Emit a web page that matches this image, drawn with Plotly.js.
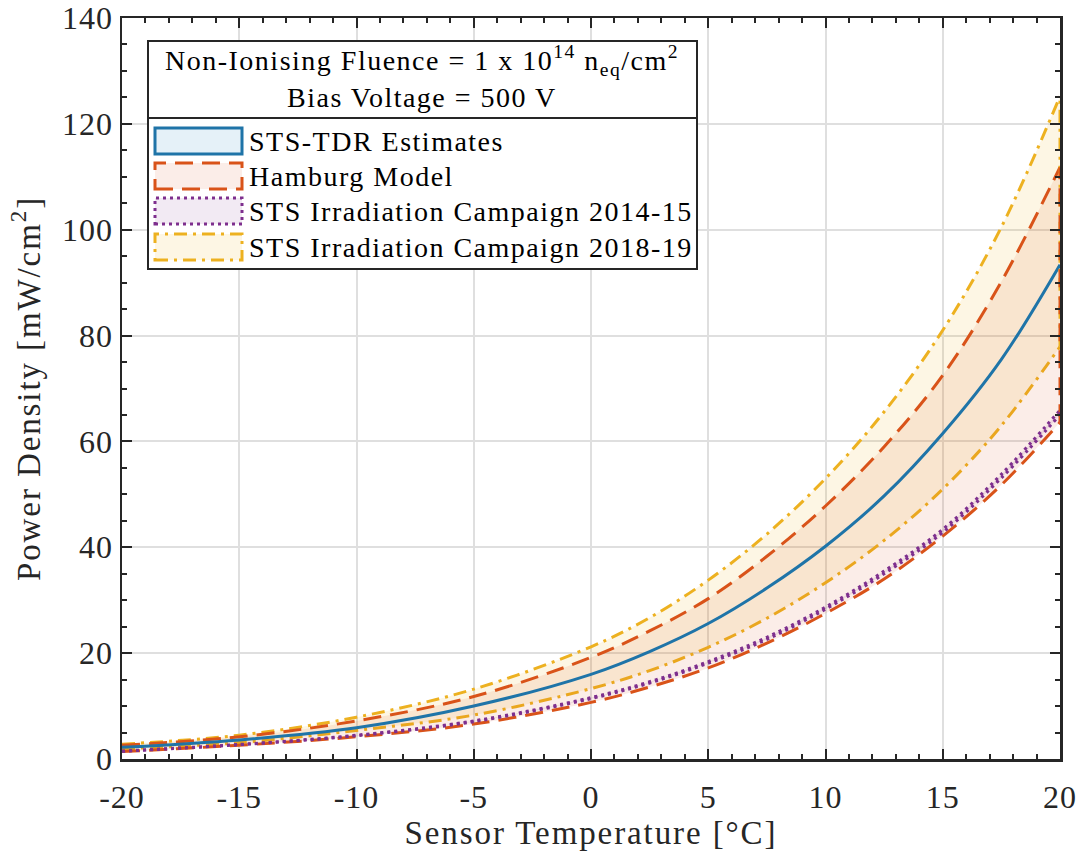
<!DOCTYPE html>
<html>
<head>
<meta charset="utf-8">
<script src="https://cdn.plot.ly/plotly-3.0.1.min.js"></script>
<style>
html,body{margin:0;padding:0;background:#fff}
#chart{width:1083px;height:857px}
.annotation-text{letter-spacing:1.5px}
.xtick text,.ytick text{letter-spacing:1px}
text.xtitle,text.ytitle{letter-spacing:1.9px}
</style>
</head>
<body>
<div id="chart"></div>
<script>
// ---- data ----
const temperature = [-20, -15, -10, -5, 0, 2.5, 5, 7.5, 10, 12.5, 15, 17.5, 20];
const tdrEstimate = [2.2, 3.6, 5.9, 10.0, 16.0, 20.3, 25.6, 32.3, 40.2, 49.7, 61.5, 75.5, 93.4];
const hamburgUpper = [2.6, 4.2, 7.2, 11.8, 19.2, 24.2, 30.3, 38.3, 47.8, 59.0, 72.5, 90.2, 111.8];
const hamburgLower = [1.4, 2.6, 4.2, 6.6, 10.7, 13.6, 17.2, 21.9, 27.5, 34.0, 42.1, 51.8, 63.6];
const campaign1415Upper = [1.5, 2.75, 4.5, 7.2, 11.6, 14.6, 18.4, 23.0, 28.7, 35.5, 43.4, 53.8, 65.9];
const campaign1415Lower = [1.45, 2.7, 4.4, 7.05, 11.4, 14.35, 18.1, 22.6, 28.3, 35.0, 42.8, 53.1, 65.0];
const campaign1819Upper = [2.8, 4.5, 7.9, 13.2, 21.2, 26.7, 33.8, 42.5, 53.0, 65.6, 81.0, 100.5, 125.2];
const campaign1819Lower = [1.9, 3.1, 5.4, 8.3, 13.3, 16.7, 21.1, 26.6, 33.3, 41.3, 51.0, 63.0, 77.9];
const seriesNames = ["STS-TDR Estimates", "Hamburg Model", "STS Irradiation Campaign 2014-15", "STS Irradiation Campaign 2018-19"];
const legendTitle = ["Non-Ionising Fluence = 1 x 10<sup>14</sup> n<sub>eq</sub>/cm<sup>2</sup>", "Bias Voltage = 500 V"];
const xTickValues = [-20, -15, -10, -5, 0, 5, 10, 15, 20];
const xTickLabels = ["-20", "-15", "-10", "-5", "0", "5", "10", "15", "20"];
const yTickValues = [0, 20, 40, 60, 80, 100, 120, 140];
const yTickLabels = ["0", "20", "40", "60", "80", "100", "120", "140"];
const xTitle = "Sensor Temperature [°C]";
const yTitle = "Power Density [mW/cm<sup>2</sup>]";

// ---- styling ----
const FONT = "Liberation Serif, Times New Roman, serif";
const INK = "#262626";
const styles = [
  {line: "#1f74a8", fill: "rgba(0,114,189,0.1)", dash: "solid"},
  {line: "#D95319", fill: "rgba(217,83,25,0.1)", dash: "18px,9px"},
  {line: "#7E2F8E", fill: "rgba(126,47,142,0.1)", dash: "3px,4px"},
  {line: "#EDB120", fill: "rgba(237,177,32,0.12)", dash: "13px,6px,3px,6px"}
];

const traces = [];
function band(upper, lower, st, name) {
  const ln = {color: st.line, width: 3, dash: st.dash, shape: "spline", smoothing: 1};
  traces.push({x: temperature, y: lower, type: "scatter", mode: "lines", line: ln,
    name: name, showlegend: false, hoverinfo: "skip"});
  traces.push({x: temperature, y: upper, type: "scatter", mode: "lines", line: ln,
    fill: "tonexty", fillcolor: st.fill, name: name, showlegend: false, hoverinfo: "skip"});
}
function edge(upper, lower, st, name) {
  const n = temperature.length - 1;
  traces.push({x: [temperature[n], temperature[n]], y: [lower[n], upper[n]], type: "scatter", mode: "lines",
    line: {color: st.line, width: 3, dash: st.dash}, cliponaxis: false, name: name, showlegend: false, hoverinfo: "skip"});
}

band(campaign1819Upper, campaign1819Lower, styles[3], seriesNames[3]);
band(hamburgUpper, hamburgLower, styles[1], seriesNames[1]);
band(campaign1415Upper, campaign1415Lower, styles[2], seriesNames[2]);
traces.push({x: temperature, y: tdrEstimate, type: "scatter", mode: "lines",
  line: {color: styles[0].line, width: 3, shape: "spline", smoothing: 1},
  name: seriesNames[0], showlegend: false});
edge(campaign1819Upper, campaign1819Lower, styles[3], seriesNames[3]);
edge(hamburgUpper, hamburgLower, styles[1], seriesNames[1]);
edge(campaign1415Upper, campaign1415Lower, styles[2], seriesNames[2]);

// plot area in pixels
const L = 122, R = 1060, T = 18, B = 759, W = 1083, H = 857;
const px = v => (v - L) / (R - L);
const py = v => (B - v) / (B - T);

const shapes = [], annotations = [];
const LEG_FONT = {family: FONT, size: 28, color: "#000"};
shapes.push({type: "rect", xref: "paper", yref: "paper", x0: px(148), x1: px(697), y0: py(269), y1: py(41),
  fillcolor: "#ffffff", line: {color: INK, width: 2}, layer: "above"});
shapes.push({type: "line", xref: "paper", yref: "paper", x0: px(148), x1: px(697), y0: py(118), y1: py(118),
  line: {color: INK, width: 2}, layer: "above"});
annotations.push({xref: "paper", yref: "paper", x: px(422), y: py(61), text: legendTitle[0], showarrow: false,
  xanchor: "center", yanchor: "middle", font: LEG_FONT});
annotations.push({xref: "paper", yref: "paper", x: px(422), y: py(97), text: legendTitle[1], showarrow: false,
  xanchor: "center", yanchor: "middle", font: LEG_FONT});
const iconTop = [128, 163, 198, 234];
for (let i = 0; i < 4; i++) {
  const st = styles[i];
  shapes.push({type: "rect", xref: "paper", yref: "paper", x0: px(155), x1: px(242), y0: py(iconTop[i] + 26), y1: py(iconTop[i]),
    fillcolor: st.fill, line: {color: st.line, width: 3, dash: st.dash}, layer: "above"});
  annotations.push({xref: "paper", yref: "paper", x: px(247), y: py(iconTop[i] + 13), text: seriesNames[i], showarrow: false,
    xanchor: "left", yanchor: "middle", font: LEG_FONT});
}

const axisCommon = {
  showline: true, linecolor: INK, linewidth: 2.5, mirror: "allticks",
  ticks: "inside", ticklen: 10, tickwidth: 2, tickcolor: INK,
  showgrid: true, gridcolor: "#dfdfdf", gridwidth: 2, zeroline: false,
  tickfont: {family: FONT, size: 32, color: INK}
};

const layout = {
  width: W, height: H,
  margin: {l: L, r: W - R, t: T, b: H - B},
  paper_bgcolor: "#fff", plot_bgcolor: "#fff",
  showlegend: false,
  xaxis: Object.assign({}, axisCommon, {
    range: [-20, 20], tickmode: "array", tickvals: xTickValues, ticktext: xTickLabels,
    ticklabelstandoff: 8,
    minor: {ticks: "inside", ticklen: 5, tickwidth: 2, tickcolor: INK, dtick: 1, tick0: -20, showgrid: false},
    title: {text: xTitle, font: {family: FONT, size: 33, color: INK}, standoff: 5}
  }),
  yaxis: Object.assign({}, axisCommon, {
    range: [0, 140], tickmode: "array", tickvals: yTickValues, ticktext: yTickLabels,
    minor: {ticks: "inside", ticklen: 5, tickwidth: 2, tickcolor: INK, dtick: 5, tick0: 0, showgrid: false},
    title: {text: yTitle, font: {family: FONT, size: 33, color: INK}, standoff: 12}
  }),
  shapes: shapes, annotations: annotations
};

Plotly.newPlot("chart", traces, layout, {staticPlot: true, displayModeBar: false});
</script>
</body>
</html>
